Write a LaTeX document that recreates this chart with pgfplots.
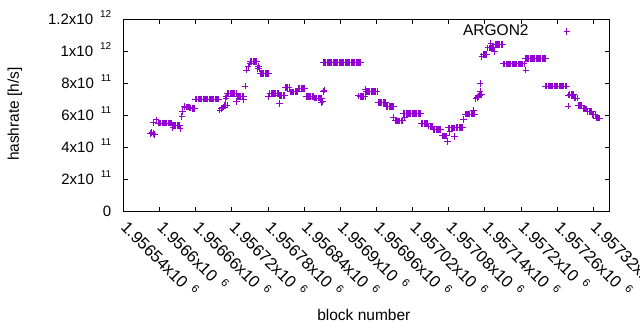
\documentclass[border=0pt]{standalone}
\usepackage{fontspec}
\setmainfont{Liberation Sans}
\usepackage{graphicx}
\usepackage{pgfplots}
\pgfplotsset{compat=1.18}
\definecolor{dv}{HTML}{9400D3}
\newcommand\sci[2]{#1x10\hspace{7bp}\raisebox{6.5bp}{\fontsize{10bp}{10bp}\selectfont #2}}
\newcommand\scx[2]{\rotatebox{-45}{#1x10\hspace{7bp}\raisebox{6.5bp}{\fontsize{11bp}{11bp}\selectfont #2}}}
\begin{document}
\fontsize{15.5bp}{18bp}\selectfont\color{dv}%
\begin{tikzpicture}[every node/.append style={text=black}]
\path[use as bounding box] (-123.5bp,-119bp) rectangle (516.5bp,211bp);
\begin{axis}[
  scale only axis, width=485.5bp, height=192bp,
  at={(0,0)}, anchor=south west,
  xmin=1956540, xmax=1957346, ymin=0, ymax=1.2e12,
  scaled x ticks=false, scaled y ticks=false,
  axis line style={draw=black, line width=0.9bp},
  every tick/.style={draw=black, line width=0.9bp},
  major tick length=4.5bp,
  xtick={1956540,1956600,1956660,1956720,1956780,1956840,1956900,1956960,1957020,1957080,1957140,1957200,1957260,1957320},
  xticklabels={\scx{1.95654}{6},\scx{1.9566}{6},\scx{1.95666}{6},\scx{1.95672}{6},\scx{1.95678}{6},\scx{1.95684}{6},\scx{1.9569}{6},\scx{1.95696}{6},\scx{1.95702}{6},\scx{1.95708}{6},\scx{1.95714}{6},\scx{1.9572}{6},\scx{1.95726}{6},\scx{1.95732}{6}},
  xticklabel style={font=\fontsize{16.5bp}{19bp}\selectfont, anchor=north west, inner sep=0pt, xshift=-3.7bp, yshift=-7.2bp, text=black},
  ytick={0,2e11,4e11,6e11,8e11,1e12,1.2e12},
  yticklabels={0,\sci{2}{11},\sci{4}{11},\sci{6}{11},\sci{8}{11},\sci{1}{12},\sci{1.2}{12}},
  yticklabel style={font=\fontsize{15bp}{18bp}\selectfont, anchor=base east, inner sep=0pt, xshift=-12bp, yshift=-5bp, text=black},
  xlabel={block number},
  xlabel style={at={(rel axis cs:0.495,-0.542)}, anchor=center, text=black},
  ylabel={hashrate [h/s]},
  ylabel style={at={(rel axis cs:-0.2235,0.505)}, anchor=center, text=black},
  legend plot pos=right,
  legend style={draw=none, fill=none, text=black, at={(rel axis cs:0.695,0.934)}, anchor=west, inner sep=0pt},
]
\addplot[color=dv, only marks, mark=+, mark size=3.3bp, mark options={solid, line width=1bp}]
coordinates {
(1956585,4.85e11) (1956587,4.9e11) (1956589,4.85e11) (1956591,4.8e11) (1956590,5.52e11) (1956594,5.69e11)
(1956598,5.5e11) (1956600,5.5e11) (1956602,5.5e11) (1956604,5.5e11) (1956606,5.5e11) (1956608,5.5e11) (1956610,5.5e11) (1956612,5.5e11) (1956614,5.5e11) (1956616,5.5e11) (1956618,5.5e11) (1956620,5.5e11)
(1956621,5.35e11) (1956623,5.35e11) (1956625,5.35e11) (1956627,5.35e11) (1956629,5.35e11) (1956631,5.35e11) (1956633,5.35e11) (1956622,5.2e11) (1956634,5.15e11)
(1956637,5.89e11) (1956638,6.21e11) (1956641,6.56e11)
(1956642,6.5e11) (1956644,6.5e11) (1956646,6.5e11) (1956648,6.5e11) (1956650,6.47e11) (1956652,6.45e11) (1956654,6.42e11) (1956656,6.4e11) (1956658,6.4e11)
(1956660,7.0e11) (1956662,7.0e11) (1956664,7.0e11) (1956666,7.0e11) (1956668,7.0e11) (1956670,7.0e11) (1956672,7.0e11) (1956674,7.0e11) (1956676,7.0e11) (1956678,7.0e11) (1956680,7.0e11) (1956682,7.0e11) (1956684,7.0e11) (1956686,7.0e11) (1956688,7.0e11) (1956690,7.0e11) (1956692,7.0e11) (1956694,7.0e11) (1956696,7.0e11) (1956698,7.0e11)
(1956700,6.31e11) (1956702,6.38e11) (1956704,6.45e11) (1956706,6.5e11) (1956708,6.58e11) (1956710,6.6e11) (1956712,6.62e11) (1956710,7.04e11) (1956711,7.14e11)
(1956713,7.35e11) (1956715,7.35e11) (1956717,7.35e11) (1956719,7.35e11) (1956721,7.35e11) (1956723,7.35e11) (1956725,7.35e11) (1956727,7.35e11)
(1956728,6.85e11)
(1956729,7.15e11) (1956731,7.15e11) (1956733,7.15e11) (1956735,7.15e11) (1956737,7.15e11) (1956739,7.15e11) (1956739,6.94e11)
(1956742,7.81e11)
(1956744,8.81e11) (1956747,9.02e11) (1956750,9.2e11)
(1956751,9.35e11) (1956753,9.35e11) (1956755,9.35e11) (1956757,9.35e11) (1956759,9.35e11) (1956761,9.35e11)
(1956763,8.92e11) (1956764,9.02e11) (1956765,8.9e11)
(1956767,8.61e11) (1956769,8.61e11) (1956771,8.61e11) (1956773,8.61e11) (1956775,8.61e11) (1956777,8.61e11) (1956779,8.61e11) (1956781,8.61e11)
(1956781,7.14e11)
(1956783,7.36e11) (1956785,7.36e11) (1956787,7.36e11) (1956789,7.36e11) (1956791,7.36e11) (1956793,7.36e11) (1956795,7.36e11) (1956797,7.36e11)
(1956799,6.73e11)
(1956799,7.22e11) (1956801,7.22e11) (1956803,7.22e11) (1956805,7.22e11) (1956807,7.22e11)
(1956809,7.72e11) (1956811,7.72e11) (1956813,7.72e11) (1956815,7.72e11)
(1956817,7.44e11) (1956819,7.44e11) (1956821,7.44e11) (1956823,7.44e11) (1956825,7.44e11) (1956827,7.44e11) (1956829,7.44e11)
(1956831,7.67e11) (1956833,7.67e11) (1956835,7.67e11) (1956837,7.67e11) (1956839,7.67e11) (1956841,7.67e11)
(1956843,7.14e11) (1956845,7.14e11) (1956847,7.14e11) (1956849,7.14e11) (1956851,7.14e11) (1956853,7.14e11) (1956855,7.14e11)
(1956857,7.06e11) (1956859,7.06e11) (1956861,7.06e11) (1956863,7.06e11) (1956865,7.06e11) (1956867,7.06e11) (1956869,7.06e11)
(1956868,6.8e11) (1956871,6.83e11) (1956872,7.46e11) (1956873,7.56e11)
(1956872,9.28e11) (1956874,9.28e11) (1956876,9.28e11) (1956878,9.28e11) (1956880,9.28e11) (1956882,9.28e11) (1956884,9.28e11) (1956886,9.28e11) (1956888,9.28e11) (1956890,9.28e11) (1956892,9.28e11) (1956894,9.28e11) (1956896,9.28e11) (1956898,9.28e11) (1956900,9.28e11) (1956902,9.28e11)
(1956904,9.28e11) (1956906,9.28e11) (1956908,9.28e11) (1956910,9.28e11) (1956912,9.28e11) (1956914,9.28e11) (1956916,9.28e11) (1956918,9.28e11) (1956920,9.28e11) (1956922,9.28e11) (1956924,9.28e11) (1956926,9.28e11) (1956928,9.28e11) (1956930,9.28e11) (1956932,9.28e11) (1956934,9.28e11)
(1956930,7.19e11)
(1956933,7.14e11) (1956935,7.14e11) (1956937,7.14e11) (1956939,7.14e11) (1956941,7.14e11)
(1956942,7.6e11)
(1956943,7.46e11) (1956945,7.46e11) (1956947,7.46e11) (1956949,7.46e11) (1956951,7.46e11) (1956953,7.46e11) (1956955,7.46e11) (1956957,7.46e11) (1956959,7.46e11) (1956961,7.46e11)
(1956963,6.78e11) (1956965,6.78e11) (1956967,6.78e11) (1956969,6.78e11) (1956971,6.78e11) (1956973,6.78e11) (1956975,6.78e11)
(1956977,6.54e11) (1956979,6.54e11) (1956981,6.54e11) (1956983,6.54e11) (1956985,6.54e11) (1956987,6.54e11) (1956989,6.54e11)
(1956988,5.86e11)
(1956991,5.63e11) (1956993,5.63e11) (1956995,5.63e11) (1956997,5.63e11) (1956999,5.63e11) (1957001,5.63e11) (1957003,5.63e11)
(1957007,5.86e11)
(1957005,6.1e11) (1957007,6.1e11) (1957009,6.1e11) (1957011,6.1e11) (1957013,6.1e11) (1957015,6.1e11) (1957017,6.1e11) (1957019,6.1e11) (1957021,6.1e11) (1957023,6.1e11) (1957025,6.1e11) (1957027,6.1e11) (1957029,6.1e11) (1957031,6.1e11) (1957033,6.1e11)
(1957035,5.48e11) (1957037,5.48e11) (1957039,5.48e11) (1957041,5.48e11) (1957043,5.48e11) (1957045,5.48e11)
(1957047,5.31e11) (1957049,5.31e11) (1957051,5.31e11) (1957053,5.31e11)
(1957055,5.1e11) (1957057,5.1e11) (1957059,5.1e11) (1957061,5.1e11) (1957063,5.1e11) (1957065,5.1e11) (1957067,5.1e11)
(1957069,4.69e11) (1957071,4.69e11) (1957073,4.69e11) (1957075,4.69e11) (1957077,4.69e11)
(1957078,4.33e11)
(1957080,5.19e11) (1957082,5.19e11) (1957084,5.19e11) (1957086,5.19e11) (1957088,5.19e11) (1957090,5.19e11)
(1957082,4.96e11) (1957090,4.64e11)
(1957093,5.23e11) (1957095,5.23e11) (1957097,5.23e11) (1957099,5.23e11) (1957101,5.23e11) (1957103,5.23e11)
(1957104,5.73e11)
(1957107,6.06e11) (1957109,6.06e11) (1957111,6.06e11) (1957113,6.06e11) (1957115,6.06e11) (1957117,6.06e11) (1957119,6.06e11) (1957121,6.06e11) (1957123,6.06e11)
(1957121,6.31e11)
(1957125,7.05e11) (1957127,7.08e11) (1957129,7.15e11) (1957131,7.25e11) (1957133,7.3e11) (1957135,7.3e11)
(1957132,7.46e11) (1957132,7.98e11)
(1957135,9.64e11)
(1957137,9.78e11) (1957139,9.78e11) (1957141,9.78e11) (1957143,9.78e11)
(1957145,1.019e12) (1957147,1.019e12) (1957149,1.019e12) (1957151,1.019e12) (1957153,1.019e12) (1957155,1.019e12) (1957150,1.05e12) (1957156,9.96e11)
(1957157,1.042e12) (1957159,1.042e12) (1957161,1.042e12) (1957163,1.042e12) (1957165,1.042e12) (1957167,1.042e12) (1957169,1.042e12)
(1957171,9.19e11) (1957173,9.19e11) (1957175,9.19e11) (1957177,9.19e11) (1957179,9.19e11) (1957181,9.19e11) (1957183,9.19e11) (1957185,9.19e11) (1957187,9.19e11) (1957189,9.19e11) (1957191,9.19e11) (1957193,9.19e11) (1957195,9.19e11) (1957197,9.19e11) (1957199,9.19e11) (1957201,9.19e11) (1957203,9.19e11) (1957205,9.19e11)
(1957208,8.81e11)
(1957207,9.54e11) (1957209,9.54e11) (1957211,9.54e11) (1957213,9.54e11) (1957215,9.54e11) (1957217,9.54e11) (1957219,9.54e11) (1957221,9.54e11) (1957223,9.54e11) (1957225,9.54e11) (1957227,9.54e11) (1957229,9.54e11) (1957231,9.54e11) (1957233,9.54e11) (1957235,9.54e11) (1957237,9.54e11) (1957239,9.54e11) (1957241,9.54e11)
(1957241,7.81e11) (1957243,7.81e11) (1957245,7.81e11) (1957247,7.81e11) (1957249,7.81e11) (1957251,7.81e11) (1957253,7.81e11) (1957255,7.81e11) (1957257,7.81e11) (1957259,7.81e11) (1957261,7.81e11) (1957263,7.81e11) (1957265,7.81e11) (1957267,7.81e11) (1957269,7.81e11) (1957271,7.81e11) (1957273,7.81e11) (1957275,7.81e11)
(1957278,6.56e11) (1957279,7.25e11)
(1957281,7.28e11) (1957283,7.28e11) (1957285,7.28e11) (1957287,7.28e11)
(1957289,7.06e11) (1957291,7.06e11) (1957293,7.06e11)
(1957295,6.59e11) (1957297,6.59e11) (1957299,6.59e11) (1957301,6.59e11)
(1957303,6.38e11) (1957305,6.38e11) (1957307,6.38e11) (1957309,6.38e11)
(1957311,6.22e11) (1957313,6.22e11) (1957315,6.22e11) (1957317,6.22e11)
(1957319,6.03e11) (1957321,6.03e11) (1957323,6.03e11)
(1957325,5.81e11) (1957327,5.81e11) (1957329,5.81e11) (1957331,5.81e11)
};
\addlegendentry{ARGON2\hspace*{33bp}\mbox{}}
\end{axis}
\end{tikzpicture}
\end{document}
